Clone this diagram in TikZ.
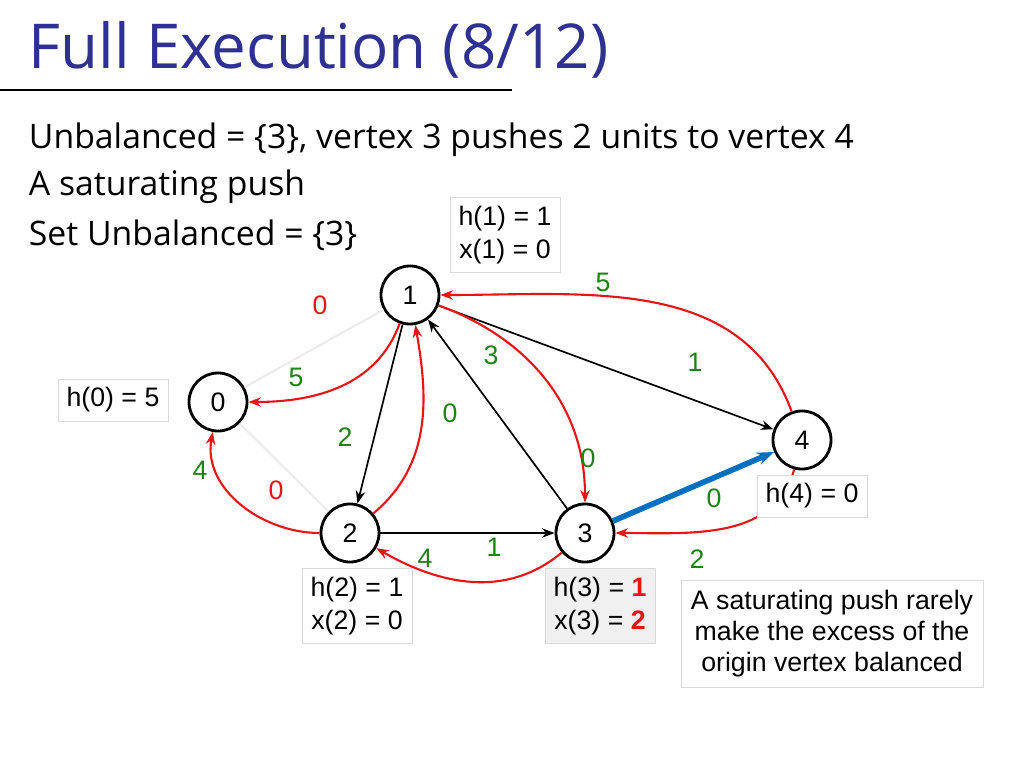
\documentclass[tikz,border=0pt]{standalone}
\usepackage{fontspec}
\setmainfont{Liberation Sans}
\newfontfamily\slidefont{Open Sans}
\usetikzlibrary{arrows.meta,positioning}
\definecolor{titleblue}{RGB}{46,49,146}
\definecolor{labgreen}{RGB}{30,130,20}
\definecolor{pushblue}{RGB}{0,112,192}
\definecolor{resred}{RGB}{230,20,20}

\begin{document}
\begin{tikzpicture}[x=0.025cm, y=-0.025cm,
  vtx/.style={circle, draw, line width=2pt, fill=white, minimum size=1.45cm, font=\fontsize{19}{19}\selectfont},
  info/.style={draw=gray!30, fill=white, align=center, font=\fontsize{19}{24}\selectfont, inner sep=6pt},
  capl/.style={font=\fontsize{19}{19}\selectfont, text=labgreen},
  zcapl/.style={font=\fontsize{19}{19}\selectfont, text=resred},
  fwd/.style={-{Stealth[length=9pt]}, line width=1.2pt},
  res/.style={-{Stealth[length=9pt]}, line width=1.5pt, resred}]
  \useasboundingbox (0,0) rectangle (1024,768);

  % Title and text
  \node[anchor=west, text=titleblue, font=\slidefont\fontsize{44}{44}\selectfont] (title) at (24,50) {Full Execution (8/12)};
  \draw[line width=1pt] (0,90) -- (512,90);
  \node[anchor=west, font=\slidefont\fontsize{24}{24}\selectfont] (t1) at (24,140) {Unbalanced = \{3\}, vertex 3 pushes 2 units to vertex 4};
  \node[anchor=west, font=\slidefont\fontsize{24}{24}\selectfont] (t2) at (24,187) {A saturating push};
  \node[anchor=west, font=\slidefont\fontsize{24}{24}\selectfont] (t3) at (24,235) {Set Unbalanced = \{3\}};

  % Vertices
  \node[vtx] (v1) at (410,295) {1};
  \node[vtx] (v0) at (218,402) {0};
  \node[vtx] (v2) at (350,533) {2};
  \node[vtx] (v3) at (585,533) {3};
  \node[vtx] (v4) at (802,440) {4};

  % Empty residual edges
  \draw[gray!15, line width=1.5pt] (v0) -- (v1);
  \draw[gray!15, line width=1.5pt] (v0) -- (v2);

  % Flow edges
  \draw[fwd] (v1) -- (v2);
  \draw[fwd] (v3) -- (v1);
  \draw[fwd] (v1) -- (v4);
  \draw[fwd] (v2) -- (v3);
  \draw[-{Stealth[length=12pt]}, line width=4pt, pushblue] (v3) -- (v4);

  % Residual edges
  \draw[res] (v1) to[out=-110, in=0] (v0);
  \draw[res] (v2) to[out=180, in=-100] (v0);
  \draw[res] (v2) to[out=40, in=-80] (v1);
  \draw[res] (v1) to[out=-20, in=90] (v3);
  \draw[res] (v4) to[out=110, in=0] (v1);
  \draw[res] (v3) to[out=-140, in=-30] (v2);
  \draw[res] (v4) to[out=-105, in=0] (v3);

  % Capacities
  \node[zcapl] (c10z) at (320,305) {0};
  \node[zcapl] (c02z) at (276,490) {0};
  \node[capl] (c10) at (296,377) {5};
  \node[capl] (c20) at (200,470) {4};
  \node[capl] (c12) at (345,437) {2};
  \node[capl] (c21) at (450,413) {0};
  \node[capl] (c31) at (491,355) {3};
  \node[capl] (c13) at (588,458) {0};
  \node[capl] (c14) at (695,362) {1};
  \node[capl] (c41) at (603,282) {5};
  \node[capl] (c23) at (494,547) {1};
  \node[capl] (c32) at (425,558) {4};
  \node[capl] (c34) at (714,498) {0};
  \node[capl] (c43) at (697,559) {2};

  % Heights and excesses
  \node[info] (i1) at (505,235) {h(1) = 1\\x(1) = 0};
  \node[info] (i0) at (113,400) {h(0) = 5};
  \node[info] (i4) at (812,496) {h(4) = 0};
  \node[info] (i2) at (357,606) {h(2) = 1\\x(2) = 0};
  \node[info, fill=gray!12] (i3) at (600,606) {h(3) = \textcolor{resred}{\textbf{1}}\\x(3) = \textcolor{resred}{\textbf{2}}};
  \node[info, inner sep=7pt, font=\fontsize{19}{22}\selectfont] (note) at (832,634) {A saturating push rarely\\make the excess of the\\origin vertex balanced};
\end{tikzpicture}
\end{document}
